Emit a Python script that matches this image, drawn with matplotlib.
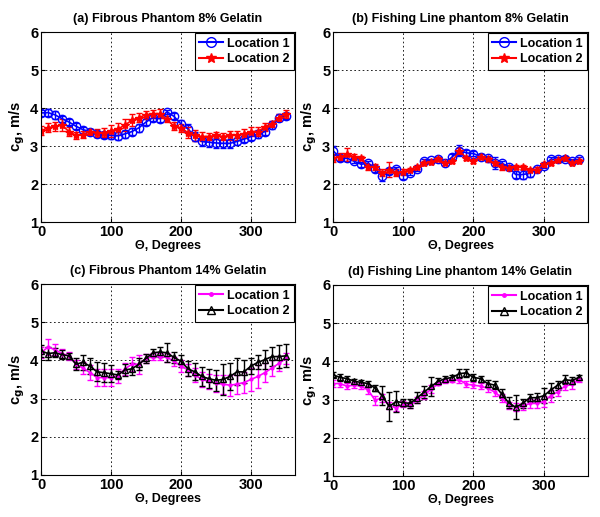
import numpy as np
import matplotlib
matplotlib.use("Agg")
import matplotlib.pyplot as plt
from matplotlib.lines import Line2D

plt.rcParams["font.family"] = ["Liberation Sans", "DejaVu Sans"]
plt.rcParams["font.weight"] = "bold"
plt.rcParams["mathtext.default"] = "bf"

# Angles (deg)
theta = np.arange(0, 360, 10)

# (a) Fibrous phantom 8% gelatin
a_loc1 = [3.87, 3.88, 3.82, 3.72, 3.63, 3.52, 3.43, 3.38, 3.32, 3.30, 3.28, 3.27,
          3.32, 3.38, 3.48, 3.63, 3.75, 3.72, 3.90, 3.78, 3.58, 3.45, 3.25, 3.12,
          3.10, 3.08, 3.07, 3.07, 3.12, 3.18, 3.25, 3.32, 3.38, 3.55, 3.75, 3.80]
a_err1 = [0.08, 0.10, 0.10, 0.08, 0.08, 0.08, 0.08, 0.08, 0.08, 0.08, 0.10, 0.10,
          0.10, 0.10, 0.10, 0.08, 0.08, 0.08, 0.06, 0.08, 0.10, 0.12, 0.12, 0.12,
          0.12, 0.12, 0.12, 0.12, 0.10, 0.08, 0.08, 0.10, 0.10, 0.10, 0.08, 0.08]
a_loc2 = [3.40, 3.48, 3.52, 3.55, 3.38, 3.28, 3.30, 3.38, 3.35, 3.35, 3.40, 3.45,
          3.55, 3.68, 3.75, 3.82, 3.85, 3.85, 3.70, 3.52, 3.48, 3.35, 3.28, 3.25,
          3.25, 3.28, 3.25, 3.28, 3.28, 3.32, 3.38, 3.38, 3.50, 3.58, 3.75, 3.85]
a_err2 = [0.12, 0.12, 0.12, 0.15, 0.12, 0.10, 0.10, 0.08, 0.10, 0.12, 0.15, 0.15,
          0.15, 0.15, 0.12, 0.10, 0.10, 0.12, 0.08, 0.10, 0.10, 0.15, 0.15, 0.12,
          0.10, 0.10, 0.10, 0.12, 0.12, 0.12, 0.12, 0.12, 0.10, 0.08, 0.08, 0.10]

# (b) Fishing line phantom 8% gelatin
b_loc1 = [2.88, 2.68, 2.68, 2.60, 2.52, 2.55, 2.40, 2.20, 2.35, 2.40, 2.22, 2.30,
          2.40, 2.60, 2.62, 2.65, 2.55, 2.72, 2.88, 2.82, 2.80, 2.72, 2.68, 2.55,
          2.55, 2.45, 2.25, 2.25, 2.28, 2.40, 2.48, 2.65, 2.65, 2.65, 2.60, 2.65]
b_err1 = [0.12, 0.08, 0.08, 0.06, 0.06, 0.06, 0.08, 0.12, 0.08, 0.06, 0.08, 0.06,
          0.05, 0.05, 0.05, 0.05, 0.05, 0.08, 0.15, 0.08, 0.06, 0.06, 0.06, 0.15,
          0.05, 0.05, 0.10, 0.12, 0.10, 0.06, 0.06, 0.05, 0.05, 0.05, 0.05, 0.05]
b_loc2 = [2.68, 2.72, 2.78, 2.72, 2.68, 2.45, 2.45, 2.30, 2.38, 2.30, 2.32, 2.38,
          2.45, 2.55, 2.58, 2.65, 2.55, 2.60, 2.88, 2.68, 2.60, 2.72, 2.65, 2.55,
          2.45, 2.42, 2.45, 2.45, 2.38, 2.38, 2.52, 2.55, 2.62, 2.68, 2.55, 2.60]
b_err2 = [0.10, 0.10, 0.18, 0.08, 0.06, 0.08, 0.08, 0.10, 0.20, 0.10, 0.08, 0.05,
          0.05, 0.05, 0.05, 0.05, 0.05, 0.05, 0.08, 0.06, 0.06, 0.06, 0.06, 0.06,
          0.08, 0.06, 0.05, 0.05, 0.05, 0.06, 0.06, 0.06, 0.05, 0.05, 0.05, 0.05]

# (c) Fibrous phantom 14% gelatin
c_loc1 = [4.20, 4.35, 4.28, 4.18, 4.12, 3.90, 3.80, 3.68, 3.55, 3.55, 3.55, 3.60,
          3.78, 3.90, 3.90, 4.05, 4.10, 4.10, 4.08, 3.98, 3.85, 3.75, 3.62, 3.50,
          3.45, 3.40, 3.38, 3.35, 3.38, 3.42, 3.50, 3.58, 3.68, 3.80, 3.92, 4.05]
c_err1 = [0.15, 0.20, 0.15, 0.12, 0.10, 0.12, 0.15, 0.20, 0.22, 0.22, 0.22, 0.18,
          0.15, 0.18, 0.25, 0.12, 0.10, 0.10, 0.12, 0.12, 0.15, 0.15, 0.18, 0.20,
          0.20, 0.22, 0.25, 0.28, 0.25, 0.28, 0.30, 0.30, 0.25, 0.22, 0.20, 0.15]
c_loc2 = [4.25, 4.18, 4.20, 4.15, 4.12, 3.90, 3.95, 3.85, 3.70, 3.68, 3.65, 3.62,
          3.75, 3.78, 3.90, 4.05, 4.20, 4.22, 4.20, 4.08, 3.98, 3.78, 3.70, 3.58,
          3.52, 3.48, 3.50, 3.58, 3.70, 3.70, 3.85, 3.95, 4.02, 4.10, 4.10, 4.12]
c_err2 = [0.15, 0.18, 0.12, 0.12, 0.08, 0.15, 0.20, 0.20, 0.25, 0.25, 0.22, 0.10,
          0.15, 0.15, 0.15, 0.12, 0.10, 0.12, 0.25, 0.15, 0.15, 0.20, 0.22, 0.25,
          0.25, 0.28, 0.40, 0.35, 0.35, 0.30, 0.20, 0.18, 0.25, 0.25, 0.30, 0.30]

# (d) Fishing line phantom 14% gelatin
d_loc1 = [3.42, 3.42, 3.35, 3.38, 3.35, 3.25, 2.98, 3.05, 2.85, 2.78, 2.88, 2.85,
          3.00, 3.12, 3.28, 3.42, 3.48, 3.50, 3.52, 3.40, 3.38, 3.35, 3.30, 3.20,
          3.05, 2.85, 2.80, 2.82, 2.90, 2.90, 2.95, 3.10, 3.20, 3.35, 3.40, 3.52]
d_err1 = [0.10, 0.10, 0.08, 0.08, 0.08, 0.10, 0.12, 0.10, 0.10, 0.08, 0.08, 0.08,
          0.08, 0.10, 0.10, 0.05, 0.05, 0.05, 0.08, 0.08, 0.08, 0.08, 0.10, 0.10,
          0.10, 0.10, 0.10, 0.10, 0.12, 0.12, 0.15, 0.15, 0.10, 0.10, 0.12, 0.05]
d_loc2 = [3.65, 3.58, 3.55, 3.48, 3.45, 3.42, 3.30, 3.10, 2.82, 2.95, 2.92, 2.90,
          3.05, 3.20, 3.35, 3.48, 3.55, 3.58, 3.68, 3.70, 3.58, 3.55, 3.42, 3.38,
          3.15, 2.92, 2.80, 2.90, 3.05, 3.05, 3.10, 3.25, 3.38, 3.52, 3.50, 3.58]
d_err2 = [0.06, 0.08, 0.06, 0.06, 0.06, 0.08, 0.08, 0.25, 0.38, 0.28, 0.10, 0.12,
          0.15, 0.15, 0.25, 0.08, 0.06, 0.06, 0.12, 0.10, 0.08, 0.08, 0.10, 0.10,
          0.12, 0.15, 0.32, 0.12, 0.10, 0.12, 0.20, 0.18, 0.12, 0.12, 0.10, 0.06]

panels = [
    ("(a) Fibrous Phantom 8% Gelatin",
     (a_loc1, a_err1, "blue", "o", "none", 6),
     (a_loc2, a_err2, "red", "*", "red", 6)),
    ("(b) Fishing Line phantom 8% Gelatin",
     (b_loc1, b_err1, "blue", "o", "none", 6),
     (b_loc2, b_err2, "red", "*", "red", 6)),
    ("(c) Fibrous Phantom 14% Gelatin",
     (c_loc1, c_err1, "magenta", ".", "magenta", 4),
     (c_loc2, c_err2, "black", "^", "none", 5)),
    ("(d) Fishing Line phantom 14% Gelatin",
     (d_loc1, d_err1, "magenta", ".", "magenta", 4),
     (d_loc2, d_err2, "black", "^", "none", 5)),
]

fig = plt.figure(figsize=(6.0, 5.17), dpi=100)
rects = [
    [41 / 600, 1 - 222 / 517, 254 / 600, 190 / 517],
    [333 / 600, 1 - 222 / 517, 255 / 600, 190 / 517],
    [41 / 600, 1 - 475 / 517, 254 / 600, 191 / 517],
    [333 / 600, 1 - 476 / 517, 255 / 600, 191 / 517],
]

for rect, (title, s1, s2) in zip(rects, panels):
    ax = fig.add_axes(rect)
    handles = []
    for (vals, errs, col, mk, mfc, ms), lab in zip((s1, s2), ("Location 1", "Location 2")):
        ax.errorbar(theta, vals, yerr=errs, color=col, marker=mk, mfc=mfc,
                    mec=col, ms=ms, lw=1.2, elinewidth=1.0, capsize=2.5,
                    capthick=1.0)
        handles.append(Line2D([], [], color=col, marker=mk, mfc=mfc, mec=col,
                              ms=ms + 1, lw=1.5, label=lab))
    ax.set_xlim(0, 363)
    ax.set_ylim(1, 6)
    ax.set_xticks([0, 100, 200, 300])
    ax.set_yticks([1, 2, 3, 4, 5, 6])
    ax.grid(True, color="black", linestyle=(0, (2, 3)), linewidth=0.6)
    ax.tick_params(direction="in", length=3, labelsize=10.5, pad=2)
    for lbl in ax.get_xticklabels() + ax.get_yticklabels():
        lbl.set_fontweight("bold")
    ax.set_title(title, fontsize=9, fontweight="bold", pad=7)
    ax.set_xlabel("Θ, Degrees", fontsize=9, fontweight="bold", labelpad=1)
    ax.set_ylabel(r"c$_g$, m/s", fontsize=10.5, fontweight="bold", labelpad=2)
    leg = ax.legend(handles=handles, loc="upper right", fontsize=9,
                    fancybox=False, edgecolor="black", framealpha=1,
                    borderaxespad=0.1, handlelength=1.9, handletextpad=0.3,
                    borderpad=0.35, labelspacing=0.3)
    leg.get_frame().set_linewidth(0.8)
    for t in leg.get_texts():
        t.set_fontweight("bold")

fig.savefig("out.png", dpi=100)
